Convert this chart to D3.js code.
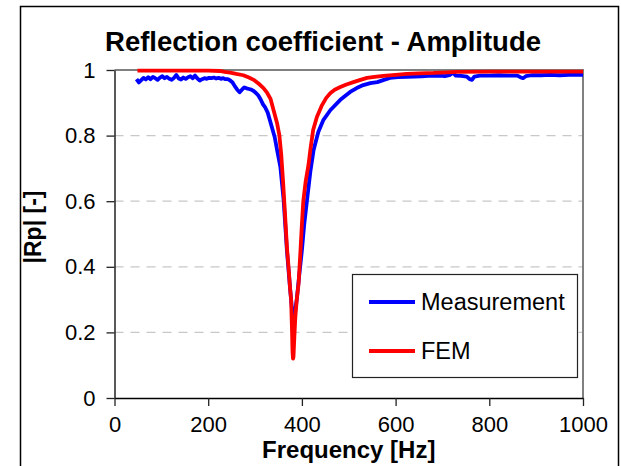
<!DOCTYPE html>
<html>

<head>
    <meta charset="utf-8">
    <style>
        body { margin: 0; background: #fff; }
        text { font-family: Arial, "Liberation Sans", sans-serif; fill: #000; }
        .grid line { stroke: #c8c8c8; stroke-dasharray: 9, 7; stroke-width: 1.3 }
    </style>
</head>

<body>
    <svg id="container" width="621" height="466"></svg>
</body>
<script src="https://cdn.jsdelivr.net/npm/d3@7"></script>
<script>
    // measurement (blue)
    let measFreq = [47, 52, 57, 62, 67, 72, 77, 82, 87, 92, 97, 102, 107, 112, 117, 122, 127, 132, 137, 142,
        147, 152, 157, 162, 167, 172, 177, 182, 187, 192, 197, 202, 207, 212, 217, 222, 227, 232, 237, 242,
        247, 252, 257, 262, 267, 272, 277, 282, 287, 292, 297, 302, 307, 312, 317, 322, 327, 332, 337, 342,
        347, 354, 361, 368, 375, 379, 382, 385, 389, 394, 400, 405, 411, 418, 425, 435, 446, 461, 482, 503,
        517, 531, 546, 561, 575, 588, 605, 624, 640, 655, 670, 681, 695, 705, 715, 723, 728, 740, 752, 758,
        763, 768, 780, 800, 820, 840, 860, 866, 872, 878, 890, 910, 930, 950, 970, 990, 1000]
    let measAmp = [0.972, 0.962, 0.969, 0.976, 0.971, 0.978, 0.972, 0.979, 0.975, 0.970, 0.977, 0.981, 0.975, 0.979, 0.973, 0.970, 0.976, 0.985, 0.974, 0.971,
        0.977, 0.973, 0.978, 0.981, 0.975, 0.983, 0.974, 0.968, 0.972, 0.975, 0.973, 0.976, 0.975, 0.977, 0.974, 0.976, 0.973, 0.975, 0.972, 0.972,
        0.968, 0.962, 0.950, 0.940, 0.932, 0.940, 0.947, 0.944, 0.942, 0.940, 0.936, 0.930, 0.922, 0.910, 0.895, 0.885, 0.870, 0.845, 0.820, 0.795,
        0.756, 0.705, 0.604, 0.450, 0.330, 0.268, 0.228, 0.260, 0.300, 0.370, 0.450, 0.530, 0.604, 0.690, 0.756, 0.811, 0.848, 0.878, 0.909, 0.933,
        0.945, 0.954, 0.960, 0.963, 0.970, 0.976, 0.978, 0.979, 0.980, 0.981, 0.982, 0.982, 0.983, 0.981, 0.984, 0.992, 0.983, 0.982, 0.980, 0.972,
        0.970, 0.980, 0.983, 0.983, 0.984, 0.983, 0.983, 0.978, 0.975, 0.981, 0.984, 0.984, 0.985, 0.984, 0.985, 0.985, 0.985]

    // FEM (red)
    let femFreq = [49, 100, 150, 200, 225, 235, 247, 260, 275, 287, 297, 308, 318, 326, 333, 340, 347, 352, 356, 360,
        364, 368, 372, 375, 377, 379, 380, 381, 382, 384, 386, 389, 393, 397, 400, 403, 408, 414, 418, 424,
        432, 443, 452, 461, 470, 482, 495, 510, 525, 539, 555, 574, 600, 624, 650, 681, 710, 731, 800, 900, 1000]
    let femAmp = [0.998, 0.998, 0.998, 0.998, 0.997, 0.994, 0.992, 0.988, 0.984, 0.977, 0.970, 0.958, 0.945, 0.930, 0.912, 0.875, 0.838, 0.800, 0.740, 0.655,
        0.560, 0.460, 0.390, 0.330, 0.300, 0.200, 0.140, 0.120, 0.125, 0.190, 0.247, 0.300, 0.350, 0.450, 0.530, 0.600, 0.660, 0.710, 0.756, 0.817,
        0.857, 0.893, 0.915, 0.930, 0.940, 0.948, 0.956, 0.963, 0.970, 0.976, 0.979, 0.982, 0.985, 0.988, 0.990, 0.991, 0.993, 0.994, 0.995, 0.995, 0.995]

    let xTicks = [0, 200, 400, 600, 800, 1000]
    let yTicks = [0, 0.2, 0.4, 0.6, 0.8, 1]
    let seriesNames = ["Measurement", "FEM"]
    let seriesColors = ["#0000ff", "#ff0000"]

    let svg = d3.select("#container")

    // outer chart frame
    svg.append("rect")
        .attr("x", 20.5).attr("y", 6.5)
        .attr("width", 598).attr("height", 480)
        .attr("fill", "none").attr("stroke", "#000").attr("stroke-width", 1.5)

    let plotLeft = 114.5, plotRight = 583, plotTop = 70, plotBottom = 398
    let x = d3.scaleLinear().domain([0, 1000]).range([plotLeft, plotRight])
    let y = d3.scaleLinear().domain([0, 1]).range([plotBottom, plotTop])

    // gridlines
    svg.append("g")
        .attr("class", "grid")
        .selectAll("line")
        .data(yTicks.filter(d => d > 0 && d < 1))
        .enter()
        .append("line")
        .attr("x1", plotLeft).attr("x2", plotRight)
        .attr("y1", d => y(d)).attr("y2", d => y(d))

    // plot area top / right border
    svg.append("path")
        .attr("d", `M${plotLeft},${plotTop}H${plotRight}V${plotBottom}`)
        .attr("fill", "none").attr("stroke", "#808080").attr("stroke-width", 2)

    let xAxis = svg.append("g")
        .attr("transform", `translate(0,${plotBottom})`)
        .call(d3.axisBottom(x).tickValues(xTicks).tickSizeInner(8).tickSizeOuter(0).tickPadding(10)
            .tickFormat(d3.format("d")))
    xAxis.select(".domain").attr("stroke", "#000").attr("stroke-width", 1.5)
    xAxis.selectAll(".tick line").attr("stroke", "#222").attr("stroke-width", 1.3)
    xAxis.selectAll("text").attr("font-size", 22).attr("fill", "#000")
        .attr("font-family", "Arial, 'Liberation Sans', sans-serif")

    let yAxis = svg.append("g")
        .attr("transform", `translate(${plotLeft},0)`)
        .call(d3.axisLeft(y).tickValues(yTicks).tickSizeInner(8).tickSizeOuter(0).tickPadding(11)
            .tickFormat(d => String(+d.toFixed(1))))
    yAxis.select(".domain").attr("stroke", "#222").attr("stroke-width", 1.5)
    yAxis.selectAll(".tick line").attr("stroke", "#222").attr("stroke-width", 1.3)
    yAxis.selectAll("text").attr("font-size", 22).attr("fill", "#000")
        .attr("font-family", "Arial, 'Liberation Sans', sans-serif")

    // data lines
    let line = d3.line().x(d => x(d[0])).y(d => y(d[1]))
    let series = [d3.zip(measFreq, measAmp), d3.zip(femFreq, femAmp)]
    svg.append("g")
        .selectAll("path")
        .data(series)
        .enter()
        .append("path")
        .attr("d", line)
        .attr("fill", "none")
        .attr("stroke", (d, i) => seriesColors[i])
        .attr("stroke-width", 3.8)
        .attr("stroke-linejoin", "round")

    // titles
    svg.append("text")
        .attr("x", 323).attr("y", 51)
        .attr("text-anchor", "middle")
        .attr("font-size", 27.5).attr("font-weight", "bold")
        .text("Reflection coefficient - Amplitude")

    svg.append("text")
        .attr("x", (plotLeft + plotRight) / 2).attr("y", 458)
        .attr("text-anchor", "middle")
        .attr("font-size", 24).attr("font-weight", "bold")
        .text("Frequency [Hz]")

    svg.append("text")
        .attr("transform", "translate(41,227) rotate(-90)")
        .attr("text-anchor", "middle")
        .attr("font-size", 23).attr("font-weight", "bold")
        .text("|Rp| [-]")

    // legend
    let legend = svg.append("g")
    legend.append("rect")
        .attr("x", 352.5).attr("y", 274.5)
        .attr("width", 225).attr("height", 103)
        .attr("fill", "#fff").attr("stroke", "#222").attr("stroke-width", 1.2)
    let items = legend.selectAll("g.item")
        .data(seriesNames)
        .enter()
        .append("g")
        .attr("class", "item")
        .attr("transform", (d, i) => `translate(0,${302 + i * 49})`)
    items.append("line")
        .attr("x1", 369).attr("x2", 415)
        .attr("stroke", (d, i) => seriesColors[i])
        .attr("stroke-width", 3.8)
    items.append("text")
        .attr("x", 421).attr("y", 8)
        .attr("font-size", 23.5)
        .text(d => d)
</script>

</html>
